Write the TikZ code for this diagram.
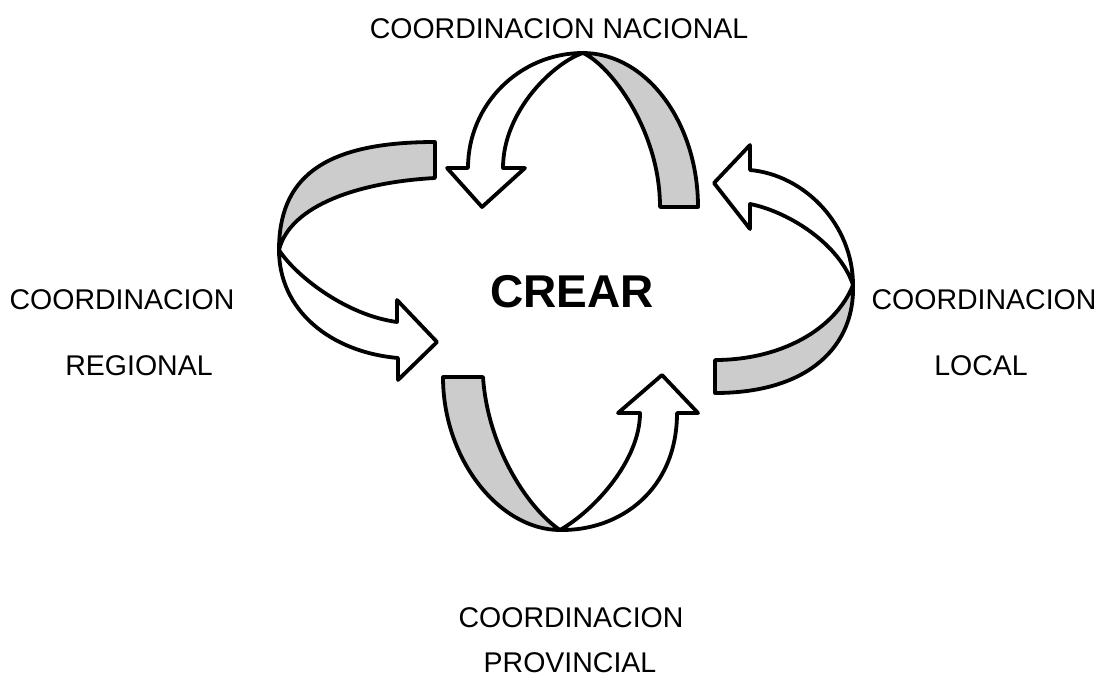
\documentclass[tikz,border=0pt]{standalone}
\usepackage{fontspec}
\setmainfont{Liberation Sans}
\definecolor{bandgray}{RGB}{204,204,204}
\tikzset{
  band/.style={draw=black, line width=3.8pt, fill=bandgray, line join=round},
  arr/.style={draw=black, line width=3.8pt, fill=white, line join=round},
  lbl/.style={anchor=base, inner sep=0pt, font=\fontsize{28.5}{34}\selectfont},
  title/.style={anchor=base, inner sep=0pt, font=\fontsize{46}{52}\selectfont\bfseries}
}
\begin{document}
\begin{tikzpicture}[x=1pt,y=-1pt]
\useasboundingbox (0,0) rectangle (1102,678);
% top element
\draw[band] (660,207) -- (698,207) .. controls (698,122) and (646,53) .. (583,53)
  .. controls (610,65) and (660,130) .. (660,207) -- cycle;
\draw[arr] (583,53) .. controls (520,53) and (468,104) .. (468,168) -- (447,168) -- (482,207)
  -- (525,168) -- (503,168) .. controls (503,110) and (555,62) .. (583,53) -- cycle;
% left element
\draw[band] (435,142) -- (435,178) .. controls (360,182) and (290,205) .. (279,250)
  .. controls (279,180) and (320,142) .. (435,142) -- cycle;
\draw[arr] (279,250) .. controls (279,310) and (330,352) .. (398,358) -- (398,380) -- (437,342)
  -- (397,300) -- (397,322) .. controls (345,315) and (295,275) .. (279,250) -- cycle;
% right element
\draw[band] (853,285) .. controls (855,345) and (810,393) .. (715,393) -- (715,360)
  .. controls (780,360) and (835,330) .. (853,285) -- cycle;
\draw[arr] (853,285) .. controls (853,225) and (805,175) .. (750,170) -- (750,145) -- (714,183)
  -- (750,229) -- (750,204) .. controls (790,212) and (840,245) .. (853,285) -- cycle;
% bottom element
\draw[band] (443,377) -- (483,377) .. controls (488,450) and (530,510) .. (560,530)
  .. controls (500,530) and (443,460) .. (443,377) -- cycle;
\draw[arr] (560,530) .. controls (620,531) and (677,490) .. (677,413) -- (698,413) -- (662,375)
  -- (618,413) -- (640,413) .. controls (640,460) and (595,510) .. (560,530) -- cycle;
% labels
\node[title] (crear) at (572,307) {CREAR};
\node[lbl] (nac) at (559,38) {COORDINACION NACIONAL};
\node[lbl] (reg1) at (122,309) {COORDINACION};
\node[lbl] (reg2) at (139,375) {REGIONAL};
\node[lbl] (loc1) at (984,309) {COORDINACION};
\node[lbl] (loc2) at (981,375) {LOCAL};
\node[lbl] (prov1) at (571,627) {COORDINACION};
\node[lbl, text depth=0pt] (prov2) at (570,672) {PROVINCIAL};
\end{tikzpicture}
\end{document}
